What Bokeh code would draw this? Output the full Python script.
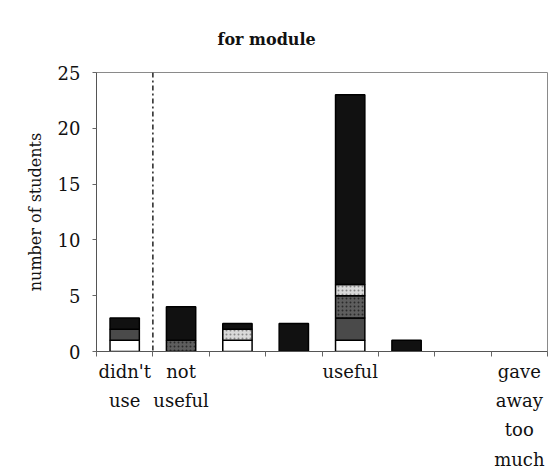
import numpy as np
from bokeh.plotting import figure
from bokeh.models import ColumnDataSource, FixedTicker, Span, Range1d
from bokeh.embed import file_html
from bokeh.resources import INLINE

# ---- data ----
positions = [1, 2, 3, 4, 5, 6, 7, 8]
tick_labels = {1: "didn't\nuse", 2: "not\nuseful", 3: "", 4: "", 5: "useful", 6: "", 7: "",
               8: "gave\naway\ntoo\nmuch"}
white_vals = [1, 0, 1, 0, 1, 0, 0, 0]
darkgray_vals = [1, 0, 0, 0, 2, 0, 0, 0]
dotted_vals = [0, 1, 0, 0, 2, 0, 0, 0]
light_vals = [0, 0, 1, 0, 1, 0, 0, 0]
black_vals = [1, 3, 0.5, 2.5, 17, 1, 0, 0]
y_ticks = [0, 5, 10, 15, 20, 25]
divider_at = 1.5

series = [
    (white_vals, "#ffffff", None, None),
    (darkgray_vals, "#4a4a4a", None, None),
    (dotted_vals, "#5e5e5e", "dot", "#2a2a2a"),
    (light_vals, "#d9d9d9", "dot", "#888888"),
    (black_vals, "#111111", None, None),
]

SERIF = "DejaVu Serif"

p = figure(width=556, height=472, output_backend="svg", toolbar_location=None,
           x_range=Range1d(0.5, 8.5), y_range=Range1d(0, 25),
           min_border_left=96, min_border_right=9, min_border_top=72, min_border_bottom=20)

bottom = np.zeros(len(positions))
for vals, fill, hatch, hcol in series:
    v = np.array(vals, dtype=float)
    mask = v > 0
    src = ColumnDataSource(dict(x=np.array(positions)[mask], bottom=bottom[mask], top=(bottom + v)[mask]))
    kw = {}
    if hatch:
        kw = dict(hatch_pattern=hatch, hatch_color=hcol, hatch_scale=4, hatch_weight=1)
    p.vbar(x="x", bottom="bottom", top="top", width=0.52, source=src,
           fill_color=fill, line_color="#000000", line_width=1.5, **kw)
    bottom = bottom + v

p.add_layout(Span(location=divider_at, dimension="height", line_color="#222222",
                  line_width=1.5, line_dash="5 3 2 3"))

p.xgrid.visible = False
p.ygrid.visible = False
p.outline_line_color = "#8a8a8a"
p.outline_line_width = 1

# x axis
p.xaxis.ticker = FixedTicker(ticks=positions, minor_ticks=[x - 0.5 for x in positions] + [positions[-1] + 0.5])
p.xaxis.major_label_overrides = tick_labels
p.xaxis.major_tick_line_color = None
p.xaxis.minor_tick_out = 5
p.xaxis.minor_tick_in = 0
p.xaxis.minor_tick_line_color = "#666666"
p.xaxis.axis_line_color = "#555555"
p.xaxis.major_label_text_font = SERIF
p.xaxis.major_label_text_font_size = "18px"
p.xaxis.major_label_text_color = "#111111"
p.xaxis.major_label_standoff = 3
p.xaxis.major_label_text_line_height = 1.4

# y axis
p.yaxis.ticker = FixedTicker(ticks=y_ticks)
p.yaxis.minor_tick_line_color = None
p.yaxis.major_tick_out = 4
p.yaxis.major_tick_in = 0
p.yaxis.major_tick_line_color = "#666666"
p.yaxis.axis_line_color = "#555555"
p.yaxis.major_label_text_font = SERIF
p.yaxis.major_label_text_font_size = "18px"
p.yaxis.major_label_text_color = "#111111"
p.yaxis.major_label_standoff = 12
p.yaxis.axis_label = "number of students"
p.yaxis.axis_label_text_font = SERIF
p.yaxis.axis_label_text_font_size = "16px"
p.yaxis.axis_label_text_font_style = "normal"
p.yaxis.axis_label_text_color = "#111111"
p.yaxis.axis_label_standoff = 10

# title
p.title.text = "for module"
p.title.text_font = SERIF
p.title.text_font_size = "16px"
p.title.text_font_style = "bold"
p.title.text_color = "#111111"
p.title.align = "left"
p.title.offset = 121
p.title.standoff = 48

p.border_fill_color = "#ffffff"

open("out.html", "w").write(file_html(p, INLINE))
